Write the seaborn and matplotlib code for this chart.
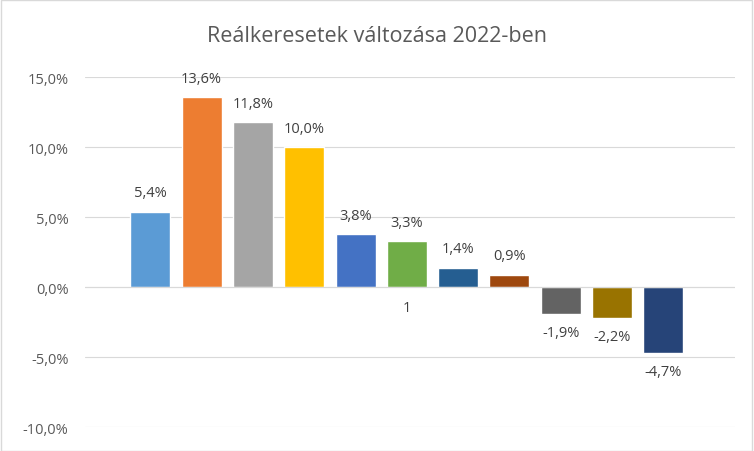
import matplotlib
matplotlib.use("Agg")
import matplotlib.pyplot as plt
import seaborn as sns
import pandas as pd

series = ["A","B","C","D","E","F","G","H","I","J","K"]
values = [5.4, 13.6, 11.8, 10.0, 3.8, 3.3, 1.4, 0.9, -1.9, -2.2, -4.7]
colors = ["#5B9BD5","#ED7D31","#A5A5A5","#FFC000","#4472C4","#70AD47",
          "#255E91","#9E480E","#636363","#997300","#264478"]
yticks = [-10, -5, 0, 5, 10, 15]
category = "1"

sns.set_theme(style="white")
plt.rcParams['font.family'] = ['Open Sans', 'DejaVu Sans']
fig = plt.figure(figsize=(7.54, 4.52), dpi=100)
ax = fig.add_axes([0.113, 0.053, 0.862, 0.774])
df = pd.DataFrame({"s": series, "v": values})
sns.barplot(data=df, x="s", y="v", hue="s", palette=colors, width=0.78,
            legend=False, ax=ax, saturation=1)
ax.set_xlim(-1.27, len(series) - 1 + 1.4)
ax.set_ylim(-10, 15)
ax.set_yticks(yticks)
ax.set_yticklabels([f"{t:.1f}%".replace(".", ",") for t in yticks], color="#595959", fontsize=10.5)
ax.yaxis.grid(True, color="#D9D9D9", lw=0.8)
ax.set_axisbelow(True)
ax.axhline(0, color="#D9D9D9", lw=0.8, zorder=1)
for s in ax.spines.values():
    s.set_visible(False)
ax.set_xticks([])
ax.set_xlabel(""); ax.set_ylabel("")
ax.tick_params(axis="y", length=0, pad=12)
for i, v in enumerate(values):
    off = 0.8 if v >= 0 else -0.8
    ax.text(i, v + off, f"{v:.1f}%".replace(".", ","), ha="center",
            va="bottom" if v >= 0 else "top", fontsize=10.5, color="#404040")
ax.text(5, -0.9, category, ha="center", va="top", fontsize=10.5, color="#404040")
fig.text(0.5, 0.92, "Reálkeresetek változása 2022-ben", ha="center", va="center",
         fontsize=15.5, color="#595959")
fig.patches.append(plt.Rectangle((0.001, 0.001), 0.997, 0.997, transform=fig.transFigure,
                                 fill=False, edgecolor="#D9D9D9", lw=1))
fig.savefig("out.png", dpi=100)
